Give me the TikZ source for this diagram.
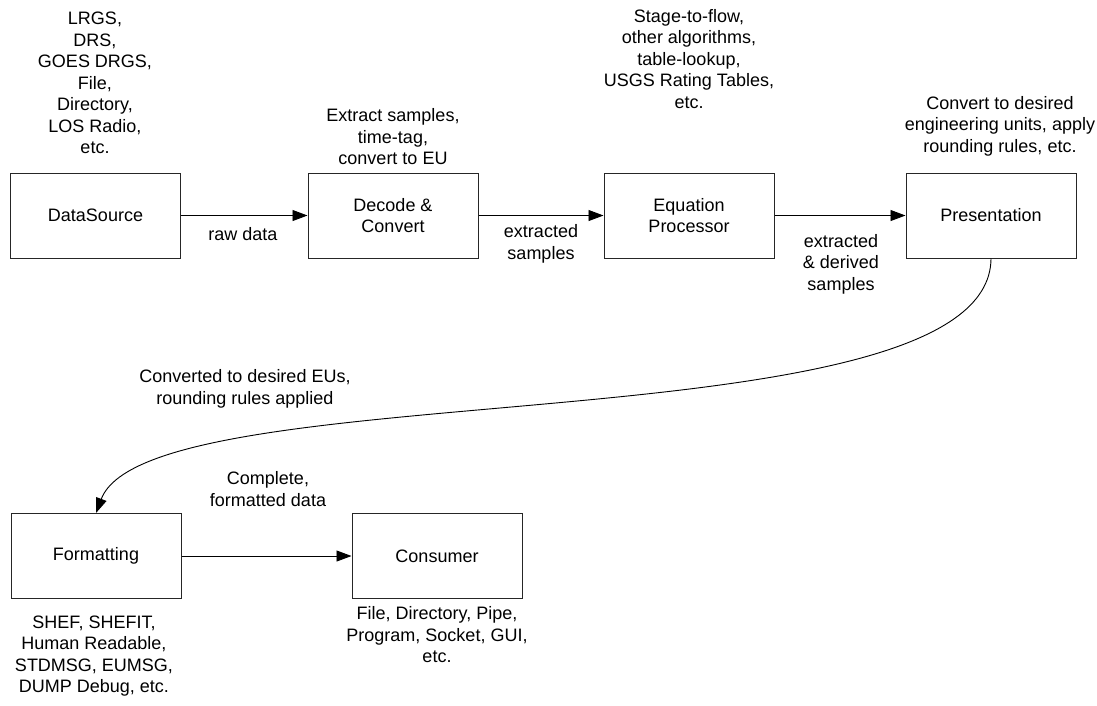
\documentclass[tikz,border=0pt]{standalone}
\usepackage{fontspec}
\setmainfont{Liberation Sans}
\usetikzlibrary{arrows.meta}
\begin{document}
\begin{tikzpicture}[x=1pt,y=-1pt,
  txt/.style={align=center, inner sep=0pt, font=\fontsize{18}{21.5}\selectfont},
  box/.style={txt, draw=black!85, line width=1pt, minimum width=170pt, minimum height=85pt},
  flow/.style={-{Triangle[length=15pt,width=11pt]}, line width=0.9pt}]
\useasboundingbox (0,0) rectangle (1097,705);

% processing stages
\node[box] (ds) at (95.5,215.5) {DataSource};
\node[box] (dc) at (393,215.5) {Decode \&\\Convert};
\node[box] (eq) at (689,215.5) {Equation\\Processor};
\node[box] (pr) at (991,215.5) {Presentation};
\node[box] (fm) at (96,556) {Formatting};
\node[box] (cs) at (437,556) {Consumer};

% descriptions above / below the stages
\node[txt] (dsnote) at (95,83) {LRGS,\\DRS,\\GOES DRGS,\\File,\\Directory,\\LOS Radio,\\etc.};
\node[txt] (dcnote) at (393,137) {Extract samples,\\time-tag,\\convert to EU};
\node[txt] (eqnote) at (689,59) {Stage-to-flow,\\other algorithms,\\table-lookup,\\USGS Rating Tables,\\etc.};
\node[txt] (prnote) at (1000,126) {Convert to desired\\engineering units, apply\\rounding rules, etc.};
\node[txt] (fmnote) at (94,656) {SHEF, SHEFIT,\\Human Readable,\\STDMSG, EUMSG,\\DUMP Debug, etc.};
\node[txt] (csnote) at (437,635) {File, Directory, Pipe,\\Program, Socket, GUI,\\etc.};

% data flow
\draw[flow] (ds) -- (dc);
\draw[flow] (dc) -- (eq);
\draw[flow] (eq) -- (pr);
\draw[flow] (pr.south) .. controls (990,450) and (150,370) .. (fm.north);
\draw[flow] (fm) -- (cs);

% flow labels
\node[txt] (l1) at (243,234) {raw data};
\node[txt] (l2) at (541,244) {extracted\\samples};
\node[txt] (l3) at (841,264) {extracted\\\& derived\\samples};
\node[txt] (l4) at (245,389) {Converted to desired EUs,\\rounding rules applied};
\node[txt] (l5) at (268,489) {Complete,\\formatted data};
\end{tikzpicture}
\end{document}
